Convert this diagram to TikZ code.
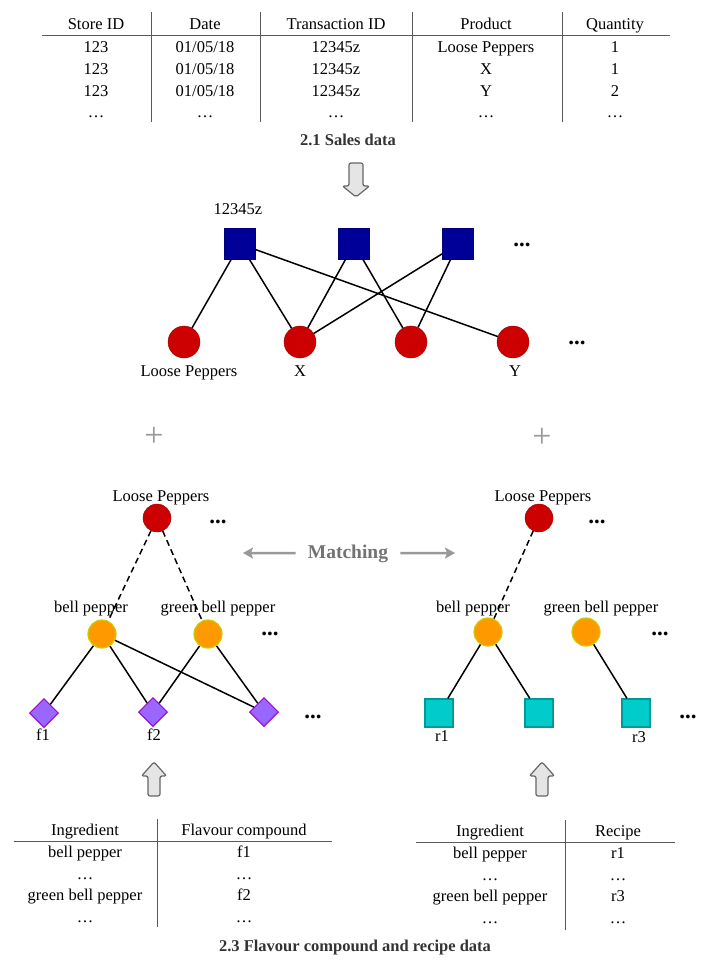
\documentclass[tikz,border=0pt]{standalone}
\usepackage{fontspec}
\setmainfont{Liberation Serif}
\usepackage{xcolor}
\usetikzlibrary{shapes.geometric,arrows.meta}

\definecolor{txblue}{HTML}{000099}
\definecolor{prodred}{HTML}{CC0000}
\definecolor{ingorange}{HTML}{FF9900}
\definecolor{ingrim}{HTML}{CCCC00}
\definecolor{cmpviolet}{HTML}{9966FF}
\definecolor{cmprim}{HTML}{9900CC}
\definecolor{rcpcyan}{HTML}{00CCCC}
\definecolor{rcprim}{HTML}{009999}

\begin{document}
\begin{tikzpicture}[x=1pt,y=-1pt,
  every node/.style={font=\fontsize{16.5}{19}\selectfont},
  cell/.style={anchor=base,inner sep=0pt},
  caption/.style={anchor=base,inner sep=0pt,font=\fontsize{16.5}{19}\selectfont\bfseries,text=black!80},
  tag/.style={anchor=base,inner sep=0pt},
  moredots/.style={inner sep=0pt,font=\fontsize{23}{26}\selectfont\bfseries},
  rule/.style={draw=black!65,line width=0.8pt},
  link/.style={line width=1.5pt},
  dashlink/.style={line width=1.5pt,dash pattern=on 6pt off 4pt},
  transaction/.style={rectangle,fill=txblue,draw=txblue!80!black,minimum size=31pt,inner sep=0pt},
  product/.style={circle,fill=prodred,draw=prodred!75!black,minimum size=32pt,inner sep=0pt},
  pepper/.style={circle,fill=prodred,draw=prodred!75!black,minimum size=28pt,inner sep=0pt},
  ingredient/.style={circle,fill=ingorange,draw=ingrim,line width=1.2pt,minimum size=28pt,inner sep=0pt},
  compound/.style={diamond,aspect=1,fill=cmpviolet,draw=cmprim,line width=1pt,minimum size=29pt,inner sep=0pt},
  recipe/.style={rectangle,fill=rcpcyan,draw=rcprim,line width=1.2pt,minimum size=28pt,inner sep=0pt},
  plus/.style={inner sep=0pt,text=black!40,font=\fontsize{34}{36}\selectfont},
  blockarrow/.style={draw=black!60,fill=black!10,line width=1.2pt,rounded corners=2pt},
  matcharrow/.style={draw=black!40,line width=2.5pt,-{Stealth[length=10pt,width=11pt,inset=2pt]}}]
\useasboundingbox (0,0) rectangle (718,971);

% sales table
\draw[rule] (42,35) -- (670,35);
\foreach \x in {151,260,412,562} \draw[rule] (\x,12) -- (\x,122);
\foreach \x/\txt [count=\i] in {96/Store ID,205/Date,336/Transaction ID,486/Product,615/Quantity}
  \node at (\x,30) [cell] (salehead\i) {\txt};
\foreach \x/\txt [count=\i] in {96/123,205/{01/05/18},336/12345z,486/Loose Peppers,615/1}
  \node at (\x,52.5) [cell] (saleA\i) {\txt};
\foreach \x/\txt [count=\i] in {96/123,205/{01/05/18},336/12345z,486/X,615/1}
  \node at (\x,74.5) [cell] (saleB\i) {\txt};
\foreach \x/\txt [count=\i] in {96/123,205/{01/05/18},336/12345z,486/Y,615/2}
  \node at (\x,96.5) [cell] (saleC\i) {\txt};
\foreach \x [count=\i] in {96,205,336,486,615}
  \node at (\x,117.5) [cell] (saleD\i) {…};
\node at (348,145) [caption] (salecap) {2.1 Sales data};

\draw[blockarrow,shift={(356,180)}] (-7,-17) -- (7,-17) -- (7,6) -- (13.5,6) -- (0,17)
  -- (-13.5,6) -- (-7,6) -- cycle;

% transaction graph
\node at (240,244) [transaction] (tx1) {};
\node at (354,244) [transaction] (tx2) {};
\node at (458,244) [transaction] (tx3) {};
\node at (522,245) [moredots] (txdots) {...};
\node at (238,214.5) [tag] (txname) {12345z};
\node at (184,342) [product] (prod1) {};
\node at (300,342) [product] (prod2) {};
\node at (411,342) [product] (prod3) {};
\node at (513,342) [product] (prod4) {};
\node at (577,343) [moredots] (proddots) {...};
\node at (189,376) [tag] (prodname1) {Loose Peppers};
\node at (300,376.5) [tag] (prodname2) {X};
\node at (515,376.5) [tag] (prodname4) {Y};
\draw[link] (tx1) -- (prod1);
\draw[link] (tx1) -- (prod2);
\draw[link] (tx1) -- (prod4);
\draw[link] (tx2) -- (prod2);
\draw[link] (tx2) -- (prod3);
\draw[link] (tx3) -- (prod2);
\draw[link] (tx3) -- (prod3);

\node at (154,437) [plus] (plusleft) {+};
\node at (542,438) [plus] (plusright) {+};

% flavour compound graph
\node at (157,518) [pepper] (lpleft) {};
\node at (161,501) [tag] (lpleftname) {Loose Peppers};
\node at (218,522) [moredots] (lpleftdots) {...};
\node at (102,634) [ingredient] (bpleft) {};
\node at (208,634) [ingredient] (gbpleft) {};
\node at (91,612) [tag] (bpleftname) {bell pepper};
\node at (218,612) [tag] (gbpleftname) {green bell pepper};
\node at (270,634) [moredots] (ingleftdots) {...};
\node at (44,713) [compound] (cmp1) {};
\node at (153,712) [compound] (cmp2) {};
\node at (264,712) [compound] (cmp3) {};
\node at (43,740.5) [tag] (cmpname1) {f1};
\node at (154,740.5) [tag] (cmpname2) {f2};
\node at (313,717) [moredots] (cmpdots) {...};
\draw[dashlink] (lpleft) -- (bpleft);
\draw[dashlink] (lpleft) -- (gbpleft);
\draw[link] (bpleft) -- (cmp1);
\draw[link] (bpleft) -- (cmp2);
\draw[link] (bpleft) -- (cmp3);
\draw[link] (gbpleft) -- (cmp2);
\draw[link] (gbpleft) -- (cmp3);

% recipe graph
\node at (539,518) [pepper] (lpright) {};
\node at (543,501) [tag] (lprightname) {Loose Peppers};
\node at (597,522) [moredots] (lprightdots) {...};
\node at (488,632) [ingredient] (bpright) {};
\node at (586,632) [ingredient] (gbpright) {};
\node at (473,612) [tag] (bprightname) {bell pepper};
\node at (601,612) [tag] (gbprightname) {green bell pepper};
\node at (660,634) [moredots] (ingrightdots) {...};
\node at (439,713) [recipe] (rcp1) {};
\node at (539,713) [recipe] (rcp2) {};
\node at (636,713) [recipe] (rcp3) {};
\node at (442,741) [tag] (rcpname1) {r1};
\node at (639,742) [tag] (rcpname3) {r3};
\node at (688,717) [moredots] (rcpdots) {...};
\draw[dashlink] (lpright) -- (bpright);
\draw[link] (bpright) -- (rcp1);
\draw[link] (bpright) -- (rcp2);
\draw[link] (gbpright) -- (rcp3);

% matching
\node at (348,558) [anchor=base,inner ysep=0pt,inner xsep=12pt,text=black!55,
  font=\fontsize{19.5}{22}\selectfont\bfseries] (match) {Matching};
\coordinate (matchleft) at (243,553);
\coordinate (matchright) at (455,553);
\draw[matcharrow] (match) -- (matchleft);
\draw[matcharrow] (match) -- (matchright);

\foreach \x in {154,542}
  \draw[blockarrow,shift={(\x,779)}] (-6,17) -- (-6,-3) -- (-12.5,-3) -- (0,-17) -- (12.5,-3)
    -- (6,-3) -- (6,17) -- cycle;

% flavour compound table
\draw[rule] (14,841) -- (332,841);
\draw[rule] (157,819) -- (157,927);
\node at (85,835) [cell] (cmphead1) {Ingredient};
\node at (244,835) [cell] (cmphead2) {Flavour compound};
\node at (85,857) [cell] (cmpA1) {bell pepper};
\node at (244,857) [cell] (cmpA2) {f1};
\node at (85,879) [cell] (cmpB1) {…};
\node at (244,879) [cell] (cmpB2) {…};
\node at (85,900) [cell] (cmpC1) {green bell pepper};
\node at (244,900) [cell] (cmpC2) {f2};
\node at (85,922) [cell] (cmpD1) {…};
\node at (244,922) [cell] (cmpD2) {…};

% recipe table
\draw[rule] (416,842) -- (675,842);
\draw[rule] (565,820) -- (565,930);
\node at (490,836) [cell] (rcphead1) {Ingredient};
\node at (618,836) [cell] (rcphead2) {Recipe};
\node at (490,858) [cell] (rcpA1) {bell pepper};
\node at (618,858) [cell] (rcpA2) {r1};
\node at (490,880) [cell] (rcpB1) {…};
\node at (618,880) [cell] (rcpB2) {…};
\node at (490,901) [cell] (rcpC1) {green bell pepper};
\node at (618,901) [cell] (rcpC2) {r3};
\node at (490,923) [cell] (rcpD1) {…};
\node at (618,923) [cell] (rcpD2) {…};

\node at (355,951) [caption] (datacap) {2.3 Flavour compound and recipe data};
\end{tikzpicture}
\end{document}
